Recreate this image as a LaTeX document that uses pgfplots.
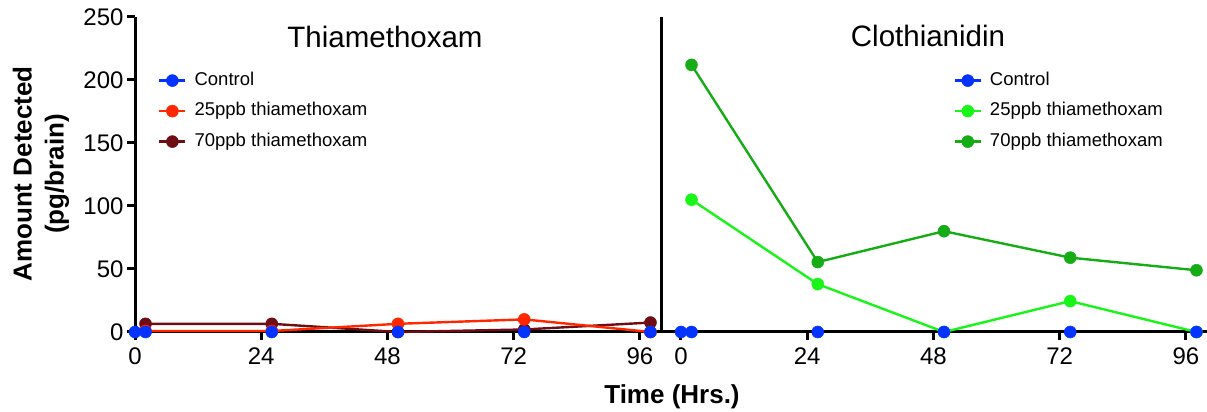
\documentclass[border=0pt]{standalone}
\usepackage{pgfplots}
\pgfplotsset{compat=1.18}
\usepackage{fontspec}
\setmainfont{Liberation Sans}
\definecolor{cblue}{RGB}{4,51,255}
\definecolor{cred}{RGB}{255,38,0}
\definecolor{cdred}{RGB}{110,14,20}
\definecolor{clgreen}{RGB}{25,245,25}
\definecolor{cdgreen}{RGB}{22,172,22}
\begin{document}
\begin{tikzpicture}
\path[use as bounding box] (0,0) rectangle (1207pt,412pt);
\pgfplotsset{
 common/.style={
  scale only axis, height=315pt, ymin=0, ymax=250,
  axis x line*=bottom, axis y line*=left,
  axis line style={line width=3pt, black},
  every outer x axis line/.append style={line width=3pt, black},
  every outer y axis line/.append style={line width=3pt, black},
  tick align=outside, major tick length=8pt,
  tick style={black, line width=3pt},
  xtick={0,24,48,72,96},
  tick label style={font=\fontsize{24}{24}\selectfont},
  xticklabel style={yshift=-4pt},
  /pgf/number format/assume math mode=true,
  clip=false,
  legend style={draw=none, fill=none, font=\fontsize{18.5}{18.5}\selectfont,
    nodes={inner sep=0pt, text height=13pt, text depth=4pt},
    row sep=13.5pt, column sep=8pt, anchor=north west},
  legend cell align=left,
  legend image code/.code={\draw[mark repeat=2,mark phase=2,#1] plot coordinates {(0pt,0pt) (13pt,0pt) (26pt,0pt)};},
 },
 ps/.style={#1, line width=2.4pt, mark=*, mark size=6pt, mark options={solid, line width=0.5pt, fill=#1, draw=#1}},
}
\begin{axis}[common, at={(135pt,80pt)}, anchor=south west, width=526pt,
  xmin=0, xmax=100, ytick={0,50,100,150,200,250},
  legend style={at={(0.038,0.832)}}]
\addlegendimage{ps=cblue}\addlegendentry{Control}
\addlegendimage{ps=cred}\addlegendentry{25ppb thiamethoxam}
\addlegendimage{ps=cdred}\addlegendentry{70ppb thiamethoxam}
\addplot[ps=cdred, forget plot] coordinates {(2,6.5)(26,6.5)(50,0)(74,2)(98,7.5)};
\addplot[ps=cred, forget plot] coordinates {(2,0.8)(26,0.8)(50,6.5)(74,10)(98,0)};
\addplot[ps=cblue, only marks, forget plot] coordinates {(0,0)(2,0)(26,0)(50,0)(74,0)(98,0)};
\end{axis}
\begin{axis}[common, at={(661pt,80pt)}, anchor=south west, width=546pt,
  xmin=-3.8, xmax=100, ytick=\empty,
  legend style={at={(0.53,0.832)}}]
\addlegendimage{ps=cblue}\addlegendentry{Control}
\addlegendimage{ps=clgreen}\addlegendentry{25ppb thiamethoxam}
\addlegendimage{ps=cdgreen}\addlegendentry{70ppb thiamethoxam}
\addplot[ps=cdgreen, forget plot] coordinates {(2,212)(26,55.5)(50,80)(74,59)(98,49)};
\addplot[ps=clgreen, forget plot] coordinates {(2,105)(26,38)(50,0)(74,24.5)(98,0)};
\addplot[ps=cblue, only marks, forget plot] coordinates {(0,0)(2,0)(26,0)(50,0)(74,0)(98,0)};
\end{axis}
\node[anchor=base, font=\fontsize{29.5}{29.5}\selectfont] at (385pt,364pt) {Thiamethoxam};
\node[anchor=base, font=\fontsize{29.5}{29.5}\selectfont] at (928pt,365pt) {Clothianidin};
\node[rotate=90, align=center, font=\bfseries\fontsize{26}{32}\selectfont] at (41pt,238pt) {Amount Detected\\(pg/brain)};
\node[anchor=base, font=\bfseries\fontsize{26}{26}\selectfont] at (672pt,8pt) {Time (Hrs.)};
\end{tikzpicture}
\end{document}
